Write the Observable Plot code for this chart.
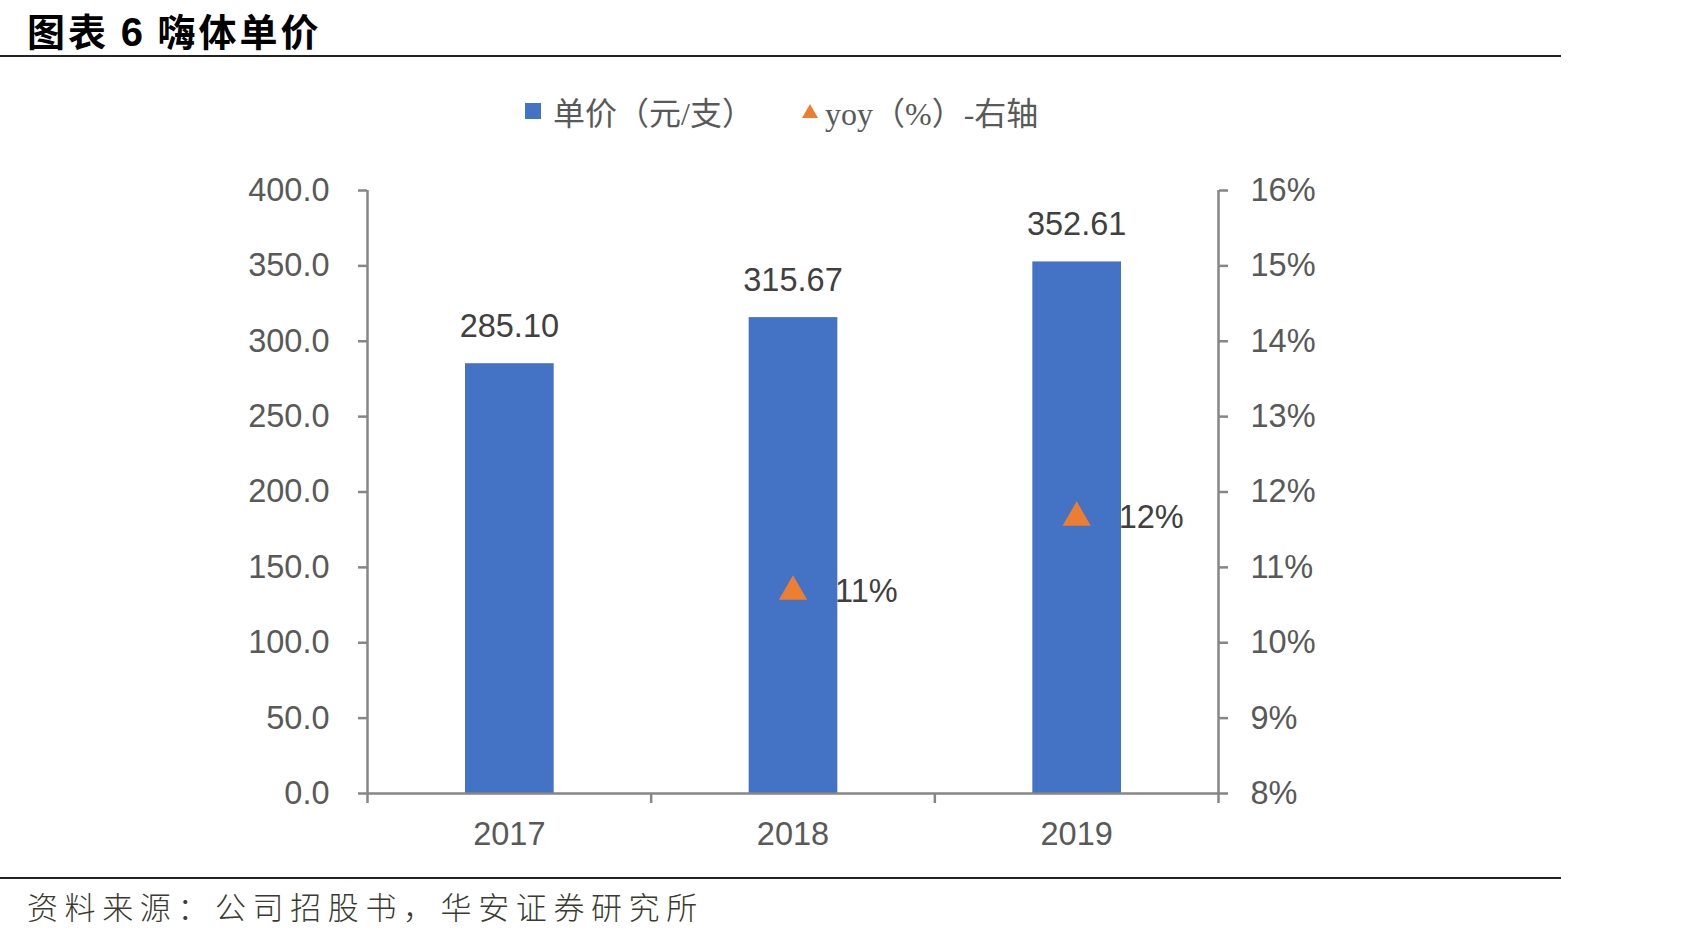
<!DOCTYPE html>
<html>
<head>
<meta charset="utf-8">
<script src="https://cdn.jsdelivr.net/npm/d3@7"></script>
<script src="https://cdn.jsdelivr.net/npm/@observablehq/plot@0.6"></script>
<style>
  html, body { margin: 0; padding: 0; background: #fff; }
  #page { position: relative; width: 1693px; height: 938px; overflow: hidden; background: #fff; }
  #title { position: absolute; left: 27px; top: 7px; height: 46px; line-height: 46px; font-family: "Noto Sans CJK SC", sans-serif; font-weight: 700; font-size: 38px; color: #000; letter-spacing: 3px; white-space: nowrap; }
  #title .num { font-family: "Liberation Sans", Arial, sans-serif; font-size: 40px; }
  .hline { position: absolute; left: 0; width: 1561px; height: 0; border-top: 2px solid #222; }
  #legend { position: absolute; top: 89px; left: 0; width: 1693px; height: 44px; font-family: "Liberation Serif", "Noto Sans CJK SC", serif; font-size: 32px; color: #595959; }
  .li { position: absolute; top: 0; display: flex; align-items: center; height: 44px; white-space: nowrap; }
  #footer { position: absolute; left: 27px; top: 883px; font-family: "Noto Sans CJK SC", sans-serif; font-weight: 300; font-size: 31px; letter-spacing: 6.6px; color: #3a3a30; white-space: nowrap; }
  #chart { position: absolute; left: 0; top: 140px; }
</style>
</head>
<body>
<div id="page">
  <div id="title">图表 <span class="num">6</span> 嗨体单价</div>
  <div class="hline" style="top:55px"></div>
  <div id="legend">
    <div class="li" style="left:525px"><span style="display:inline-block;width:16px;height:16px;background:#4472C4;margin-right:12px"></span><span>单价（元/支）</span></div>
    <div class="li" style="left:801px"><svg width="18" height="16" style="margin-right:6px"><polygon points="9,1 17,15 1,15" fill="#ED7D31"/></svg><span>yoy（%）-右轴</span></div>
  </div>
  <div id="chart"></div>
  <div class="hline" style="top:877px"></div>
  <div id="footer">资料来源：公司招股书，华安证券研究所</div>
</div>
<script>
// ---- data ----
const years = [2017, 2018, 2019];
const prices = [285.10, 315.67, 352.61];           // 单价（元/支）
const yoy = [null, 10.68, 11.66];                   // yoy (%), right axis
const leftTicks = [0, 50, 100, 150, 200, 250, 300, 350, 400];
const rightTicks = [8, 9, 10, 11, 12, 13, 14, 15, 16]; // %

// right-axis mapping onto the left scale (8%..16% -> 0..400)
const rMin = 8, rMax = 16, lMax = 400;
const toLeft = p => (p - rMin) / (rMax - rMin) * lMax;
const fromLeft = v => rMin + v / lMax * (rMax - rMin);

const data = years.map((y, i) => ({year: y, price: prices[i], yoy: yoy[i]}));
const yoyData = data.filter(d => d.yoy != null);
const boundaries = [years[0] - 0.5, ...years.map(y => y + 0.5)];

const axisGray = "#868686";
const labelGray = "#595959";
const fontFam = '"Liberation Sans", Arial, sans-serif';

const chart = Plot.plot({
  width: 1693,
  height: 720,
  marginLeft: 367,
  marginRight: 475,
  marginTop: 50,
  marginBottom: 67,
  style: {fontFamily: fontFam, background: "transparent", overflow: "visible"},
  x: {type: "linear", domain: [boundaries[0], boundaries[boundaries.length - 1]], axis: null},
  y: {domain: [0, lMax], axis: null},
  marks: [
    Plot.rectY(data, {x1: d => d.year - 0.5, x2: d => d.year + 0.5, y: "price", fill: "#4472C4", insetLeft: 98, insetRight: 97}),
    Plot.ruleX([boundaries[0], boundaries[boundaries.length - 1]], {y1: 0, y2: lMax, stroke: axisGray, strokeWidth: 2.5}),
    Plot.ruleY([0], {stroke: axisGray, strokeWidth: 2.5}),
    Plot.axisY({anchor: "left", ticks: leftTicks, tickFormat: d3.format(".1f"), tickSize: 9, tickPadding: 29, stroke: axisGray, strokeWidth: 2.5, fill: labelGray, fontSize: 32.5, label: null}),
    Plot.axisY({anchor: "right", ticks: rightTicks.map(toLeft), tickFormat: v => Math.round(fromLeft(v)) + "%", tickSize: 9, tickPadding: 23, stroke: axisGray, strokeWidth: 2.5, fill: labelGray, fontSize: 32.5, label: null}),
    Plot.axisX({anchor: "bottom", ticks: boundaries, tickFormat: () => "", tickSize: 10, stroke: axisGray, strokeWidth: 2.5, label: null}),
    Plot.axisX({anchor: "bottom", ticks: years, tickFormat: d => String(d), tickSize: 0, tickPadding: 28, fill: labelGray, fontSize: 32.5, label: null}),
    Plot.text(data, {x: "year", y: "price", text: d => d.price.toFixed(2), dy: -37, lineAnchor: "middle", fontSize: 32.5, fill: "#404040"}),
    Plot.dot(yoyData, {x: "year", y: d => toLeft(d.yoy), symbol: "triangle", r: 10.5, fill: "#ED7D31", stroke: "none"}),
    Plot.text(yoyData, {x: "year", y: d => toLeft(d.yoy), text: d => Math.round(d.yoy) + "%", dx: 42, textAnchor: "start", lineAnchor: "middle", fontSize: 32.5, fill: "#404040"})
  ]
});
document.getElementById("chart").appendChild(chart);
</script>
</body>
</html>
